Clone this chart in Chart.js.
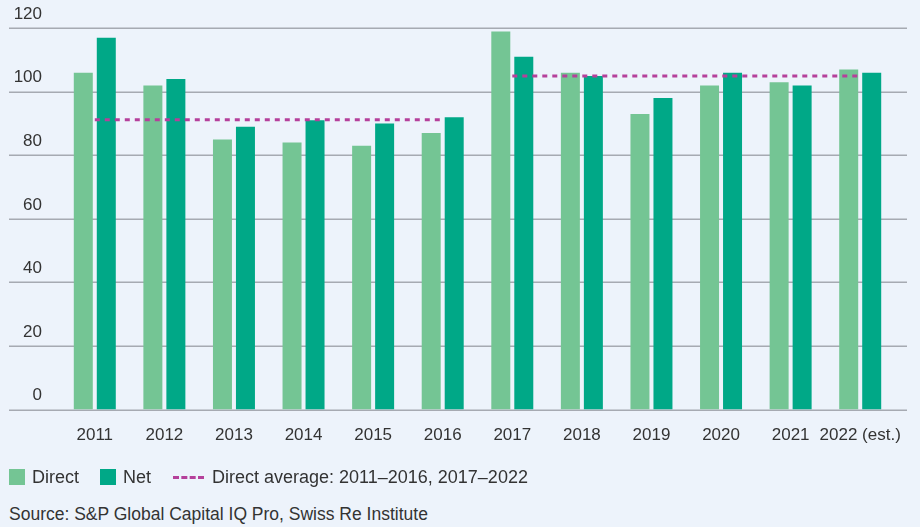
<!DOCTYPE html>
<html>
<head>
<meta charset="utf-8">
<script src="https://cdn.jsdelivr.net/npm/chart.js@4/dist/chart.umd.min.js"></script>
<style>
  html, body { margin: 0; padding: 0; background: #edf3fb; }
  body { width: 920px; height: 527px; position: relative; overflow: hidden;
         font-family: "Liberation Sans", Arial, sans-serif; color: #333; }
  #wrap { position: absolute; left: 0; top: 0; width: 920px; height: 472px; }
  .item { position: absolute; top: 468px; font-size: 18px; line-height: 18px; display: flex; align-items: center; white-space: nowrap; }
  .item .box { display: inline-block; width: 16px; height: 16px; margin-right: 7px; }
  .item .dash { display: inline-block; width: 31px; height: 0; border-top: 3px dashed #b5409b; margin-right: 8px; }
  .source { position: absolute; left: 9px; top: 504px; font-size: 17.5px; white-space: nowrap; }
</style>
</head>
<body>
<div id="wrap"><canvas id="chart"></canvas></div>
<span class="item" style="left:9px"><span class="box" style="background:#74c594"></span>Direct</span>
<span class="item" style="left:100px"><span class="box" style="background:#00a887"></span>Net</span>
<span class="item" style="left:173px"><span class="dash"></span>Direct average: 2011–2016, 2017–2022</span>
<div class="source">Source: S&amp;P Global Capital IQ Pro, Swiss Re Institute</div>

<script>
// data
const years = ["2011", "2012", "2013", "2014", "2015", "2016", "2017", "2018", "2019", "2020", "2021", "2022 (est.)"]
const direct = [106, 102, 85, 84, 83, 87, 119, 106, 93, 102, 103, 107]
const net = [117, 104, 89, 91, 90, 92, 111, 105, 98, 106, 102, 106]
const avgEarly = [91.2, 91.2, 91.2, 91.2, 91.2, 91.2, null, null, null, null, null, null]
const avgLate = [null, null, null, null, null, null, 105, 105, 105, 105, 105, 105]
const yTicks = [0, 20, 40, 60, 80, 100, 120]

const fontFam = '"Liberation Sans", Arial, sans-serif'

// grid lines run wider than the plot area
const wideGrid = {
  id: "wideGrid",
  beforeDatasetsDraw(chart) {
    const ctx = chart.ctx
    const y = chart.scales.y
    ctx.save()
    ctx.strokeStyle = "#a6aab2"
    ctx.lineWidth = 1.5
    yTicks.forEach(v => {
      const py = Math.round(y.getPixelForValue(v)) + 0.25
      ctx.beginPath()
      ctx.moveTo(9, py)
      ctx.lineTo(907, py)
      ctx.stroke()
    })
    ctx.restore()
  }
}

const lineStyle = {
  type: "line",
  borderColor: "#b5409b",
  borderWidth: 3,
  borderDash: [5, 5],
  pointRadius: 0,
  fill: false,
  order: 0
}

new Chart(document.getElementById("chart"), {
  type: "bar",
  data: {
    labels: years,
    datasets: [
      { label: "Direct", data: direct, backgroundColor: "#74c594", order: 1, categoryPercentage: 0.661, barPercentage: 0.826 },
      { label: "Net", data: net, backgroundColor: "#00a887", order: 1, categoryPercentage: 0.661, barPercentage: 0.826 },
      Object.assign({ label: "Direct average 2011-2016", data: avgEarly }, lineStyle),
      Object.assign({ label: "Direct average 2017-2022", data: avgLate }, lineStyle)
    ]
  },
  options: {
    responsive: true,
    maintainAspectRatio: false,
    animation: false,
    layout: { padding: { left: 0, right: 25, top: 28, bottom: 10 } },
    plugins: { legend: { display: false }, tooltip: { enabled: false } },
    scales: {
      x: {
        grid: { display: false, drawTicks: false },
        border: { display: false },
        ticks: { color: "#333", font: { family: fontFam, size: 17 }, padding: 16, maxRotation: 0, autoSkip: false }
      },
      y: {
        min: 0,
        max: 120,
        afterFit(scale) { scale.width = 60 },
        grid: { display: false, drawTicks: false },
        border: { display: false },
        ticks: { stepSize: 20, color: "#333", font: { family: fontFam, size: 17 }, padding: 18, labelOffset: -14 }
      }
    }
  },
  plugins: [wideGrid]
})
</script>
</body>
</html>
